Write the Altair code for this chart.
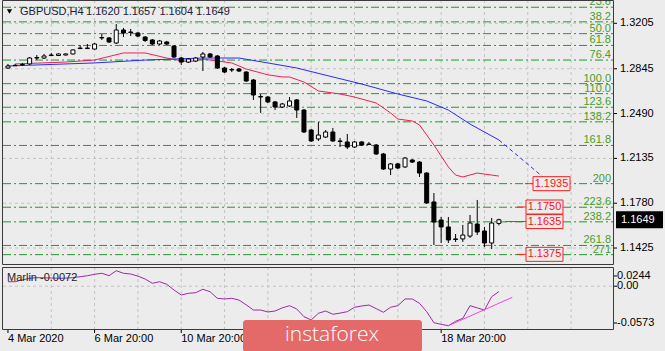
import altair as alt
import pandas as pd

# ---------------- chart values ----------------
bar_index = list(range(69))
opens = [1.2851, 1.2869, 1.2875, 1.2883, 1.2930, 1.2930, 1.2950, 1.2950, 1.2954, 1.2962,
         1.3005, 1.3005, 1.3001, 1.3089, 1.3089, 1.3049, 1.3152, 1.3136, 1.3128, 1.3096,
         1.3073, 1.3041, 1.3057, 1.3025, 1.2930, 1.2898, 1.2906, 1.2938, 1.2962, 1.2946,
         1.2851, 1.2835, 1.2843, 1.2819, 1.2756, 1.2621, 1.2621, 1.2582, 1.2542, 1.2550,
         1.2598, 1.2518, 1.2360, 1.2289, 1.2304, 1.2344, 1.2273, 1.2265, 1.2225, 1.2265,
         1.2249, 1.2241, 1.2170, 1.2051, 1.2091, 1.2067, 1.2122, 1.2106, 1.2019, 1.1790,
         1.1647, 1.1592, 1.1497, 1.1497, 1.1520, 1.1615, 1.1560, 1.1465, 1.1620]
closes = [1.2867, 1.2872, 1.2879, 1.2930, 1.2934, 1.2946, 1.2954, 1.2962, 1.2962, 1.2994,
          1.3009, 1.3009, 1.3041, 1.3092, 1.3057, 1.3152, 1.3128, 1.3132, 1.3104, 1.3069,
          1.3041, 1.3065, 1.3041, 1.2938, 1.2898, 1.2922, 1.2930, 1.2962, 1.2938, 1.2851,
          1.2819, 1.2839, 1.2827, 1.2748, 1.2637, 1.2625, 1.2582, 1.2542, 1.2566, 1.2590,
          1.2518, 1.2344, 1.2273, 1.2320, 1.2344, 1.2273, 1.2269, 1.2225, 1.2265, 1.2241,
          1.2245, 1.2170, 1.2051, 1.2091, 1.2059, 1.2138, 1.2106, 1.2019, 1.1782, 1.1631,
          1.1592, 1.1489, 1.1493, 1.1528, 1.1623, 1.1552, 1.1465, 1.1623, 1.1649]
highs = [1.2883, 1.2883, 1.2891, 1.2938, 1.2954, 1.2962, 1.2970, 1.2966, 1.2966, 1.2997,
         1.3033, 1.3041, 1.3049, 1.3120, 1.3096, 1.3199, 1.3168, 1.3160, 1.3136, 1.3104,
         1.3081, 1.3073, 1.3065, 1.3033, 1.2938, 1.2930, 1.2938, 1.2978, 1.2970, 1.2954,
         1.2859, 1.2851, 1.2851, 1.2827, 1.2764, 1.2645, 1.2629, 1.2590, 1.2574, 1.2621,
         1.2605, 1.2526, 1.2368, 1.2423, 1.2360, 1.2376, 1.2297, 1.2328, 1.2273, 1.2273,
         1.2265, 1.2249, 1.2178, 1.2099, 1.2099, 1.2146, 1.2130, 1.2114, 1.2027, 1.1861,
         1.1671, 1.1671, 1.1536, 1.1608, 1.1687, 1.1806, 1.1592, 1.1663, 1.1657]
lows = [1.2843, 1.2867, 1.2867, 1.2875, 1.2914, 1.2922, 1.2946, 1.2946, 1.2950, 1.2958,
        1.3001, 1.3001, 1.2997, 1.3073, 1.3049, 1.3041, 1.3096, 1.3104, 1.3096, 1.3057,
        1.3033, 1.3033, 1.3033, 1.2930, 1.2875, 1.2891, 1.2898, 1.2827, 1.2930, 1.2843,
        1.2811, 1.2819, 1.2819, 1.2740, 1.2598, 1.2495, 1.2574, 1.2518, 1.2534, 1.2542,
        1.2455, 1.2336, 1.2265, 1.2273, 1.2297, 1.2265, 1.2225, 1.2209, 1.2217, 1.2233,
        1.2241, 1.2162, 1.2043, 1.2003, 1.2051, 1.2059, 1.2099, 1.1988, 1.1774, 1.1449,
        1.1465, 1.1465, 1.1473, 1.1473, 1.1505, 1.1528, 1.1433, 1.1417, 1.1604]

ma_red_idx = [1, 8, 12, 16, 19, 22, 25, 27, 31, 33, 36, 38, 39, 41, 43, 46, 48, 51, 53,
              54, 56, 57, 59, 61, 62, 63, 65, 67, 68]
ma_red_val = [1.2883, 1.2898, 1.2914, 1.2970, 1.2970, 1.2930, 1.2898, 1.2922, 1.2891, 1.2843,
              1.2797, 1.2780, 1.2780, 1.2740, 1.2669, 1.2645, 1.2621, 1.2574, 1.2495,
              1.2447, 1.2431, 1.2400, 1.2241, 1.2067, 1.2003, 1.1988, 1.2019, 1.2003, 1.1995]
ma_blue_idx = [0, 12, 19, 27, 32, 36, 40, 45, 49, 54, 58, 61, 64, 68]
ma_blue_val = [1.2867, 1.2891, 1.2914, 1.2930, 1.2930, 1.2891, 1.2851, 1.2780, 1.2724,
               1.2645, 1.2590, 1.2518, 1.2407, 1.2281]
blue_proj_idx = [68, 74.6]
blue_proj_val = [1.2281, 1.1964]

fib_levels = [23.6, 38.2, 50.0, 61.8, 76.4, 100.0, 110.0, 123.6, 138.2, 161.8, 200.0,
              223.6, 238.2, 261.8, 271.0]
fib_labels = ["23.6", "38.2", "50.0", "61.8", "76.4", "100.0", "110.0", "123.6", "138.2",
              "161.8", "200", "223.6", "238.2", "261.8", "271"]
fib_price_0 = 1.3519
fib_price_100 = 1.2727

target_prices = [1.1935, 1.1750, 1.1635, 1.1375]
target_labels = ["1.1935", "1.1750", "1.1635", "1.1375"]

price_ticks = [1.3205, 1.2845, 1.2490, 1.2135, 1.1780, 1.1425]
price_tick_labels = ["1.3205", "1.2845", "1.2490", "1.2135", "1.1780", "1.1425"]
last_price = 1.1649

marlin = [0.0060, 0.0060, 0.0085, 0.0105, 0.0114, 0.0112, 0.0110, 0.0106, 0.0108, 0.0115,
          0.0127, 0.0140, 0.0159, 0.0173, 0.0141, 0.0207, 0.0173, 0.0163, 0.0135, 0.0096,
          0.0039, 0.0060, 0.0025, -0.0051, -0.0118, -0.0095, -0.0087, -0.0041, -0.0074, -0.0162,
          -0.0171, -0.0162, -0.0185, -0.0250, -0.0319, -0.0319, -0.0345, -0.0332, -0.0290, -0.0261,
          -0.0305, -0.0408, -0.0452, -0.0363, -0.0332, -0.0376, -0.0360, -0.0341, -0.0282, -0.0265,
          -0.0252, -0.0300, -0.0349, -0.0282, -0.0261, -0.0171, -0.0171, -0.0229, -0.0341, -0.0489,
          -0.0510, -0.0529, -0.0470, -0.0430, -0.0261, -0.0290, -0.0319, -0.0141, -0.0072]
marlin_trend_idx = [61, 69.85]
marlin_trend_val = [-0.0529, -0.0149]
ind_ticks = [0.0244, 0.0, -0.0573]
ind_tick_labels = ["0.0244", "0.00", "-0.0573"]

# x labels visible in the reference (the others sit under the watermark)
x_label_idx = [0, 12, 24, 60]
x_labels = ["4 Mar 2020", "6 Mar 20:00", "10 Mar 20:00", "18 Mar 20:00"]
grid_idx = [6, 12, 18, 24, 30, 36, 42, 48, 54, 60, 66, 72, 78]

title_symbol = "GBPUSD,H4"
title_ohlc = "1.1620 1.1657 1.1604 1.1649"
ind_title = "Marlin -0.0072"
logo_text = "instaforex"

# ---------------- layout (pixels) ----------------
W, H = 665, 351
LEFT, RIGHT = 3, 613
MAIN_T, MAIN_B = 0, 264
IND_T, IND_B = 267, 329
BAR_PX = 7.33
PRICE_AT_TOP = 1.33895
PRICE_PER_PX = 0.000792
IND_ZERO_PX = 286.2
IND_PX_PER_UNIT = 747.0

BG = "#ececec"
FONT = "Liberation Sans"

xs = alt.Scale(domain=[(0 - LEFT) / BAR_PX, (W - LEFT) / BAR_PX], nice=False, zero=False)
ps = alt.Scale(domain=[PRICE_AT_TOP - H * PRICE_PER_PX, PRICE_AT_TOP], nice=False, zero=False)
iscale = alt.Scale(domain=[(IND_ZERO_PX - H) / IND_PX_PER_UNIT, IND_ZERO_PX / IND_PX_PER_UNIT],
                   nice=False, zero=False)

# ---------------- tables ----------------
candles = pd.DataFrame({"idx": bar_index, "open": opens, "high": highs, "low": lows, "close": closes})
red_df = pd.DataFrame({"idx": ma_red_idx, "v": ma_red_val})
blue_df = pd.DataFrame({"idx": ma_blue_idx, "v": ma_blue_val})
proj_df = pd.DataFrame({"idx": blue_proj_idx, "v": blue_proj_val})
fib_df = pd.DataFrame({"level": fib_levels, "label": fib_labels})
fib_df["price"] = fib_price_0 + (fib_price_100 - fib_price_0) * fib_df["level"] / 100.0
tick_df = pd.DataFrame({"price": price_ticks, "label": price_tick_labels})
marlin_df = pd.DataFrame({"idx": bar_index, "v": marlin})
trend_df = pd.DataFrame({"idx": marlin_trend_idx, "v": marlin_trend_val})
xlab_df = pd.DataFrame({"idx": x_label_idx, "label": x_labels})
grid_df = pd.DataFrame({"idx": grid_idx})
one = pd.DataFrame({"k": [0]})

X = lambda f="idx": alt.X(f + ":Q", scale=xs, axis=None)
PY = lambda f: alt.Y(f + ":Q", scale=ps, axis=None)
IY = lambda f: alt.Y(f + ":Q", scale=iscale, axis=None)

# ---------------- background grid ----------------
grid_v_main = alt.Chart(grid_df).mark_rule(color="#c3c3c3", strokeDash=[3, 3], strokeWidth=1).encode(
    x=X(), y=alt.value(MAIN_T), y2=alt.value(MAIN_B))
grid_v_ind = alt.Chart(grid_df).mark_rule(color="#c3c3c3", strokeDash=[3, 3], strokeWidth=1).encode(
    x=X(), y=alt.value(IND_T), y2=alt.value(IND_B))
x_ticks = alt.Chart(xlab_df).mark_rule(color="#000000").encode(
    x=X(), y=alt.value(IND_B), y2=alt.value(IND_B + 4))
x_text = alt.Chart(xlab_df).mark_text(align="left", baseline="middle", fontSize=11, font=FONT,
                                      color="#000000").encode(x=X(), y=alt.value(339), text="label:N")
deco_back = alt.layer(grid_v_main, grid_v_ind, x_ticks, x_text)

# ---------------- price panel ----------------
grid_h = alt.Chart(tick_df).mark_rule(color="#c3c3c3", strokeDash=[3, 3]).encode(
    y=PY("price"), x=alt.value(LEFT), x2=alt.value(RIGHT))
fib_rules = alt.Chart(fib_df).mark_rule(color="#22992a", strokeDash=[8, 3, 2, 3], strokeWidth=1).encode(
    y=PY("price"), x=alt.value(LEFT), x2=alt.value(RIGHT))
fib_text = alt.Chart(fib_df).mark_text(align="right", baseline="alphabetic", dy=-2, fontSize=11,
                                       font=FONT, color="#4a9e26").encode(
    y=PY("price"), x=alt.value(RIGHT - 2), text="label:N")
red_line = alt.Chart(red_df).mark_line(color="#ee2050", strokeWidth=1).encode(x=X(), y=PY("v"))
blue_line = alt.Chart(blue_df).mark_line(color="#2a2aff", strokeWidth=1).encode(x=X(), y=PY("v"))
blue_proj = alt.Chart(proj_df).mark_line(color="#2a2aff", strokeWidth=1, strokeDash=[4, 3]).encode(
    x=X(), y=PY("v"))
wicks = alt.Chart(candles).mark_rule(color="#000000", strokeWidth=1).encode(
    x=X(), y=PY("low"), y2="high:Q")
bull = alt.Chart(candles).transform_filter("datum.close >= datum.open").mark_bar(
    size=4, fill="#ffffff", stroke="#000000", strokeWidth=1).encode(x=X(), y=PY("open"), y2="close:Q")
bear = alt.Chart(candles).transform_filter("datum.close < datum.open").mark_bar(
    size=4, fill="#000000", stroke="#000000", strokeWidth=1).encode(x=X(), y=PY("open"), y2="close:Q")

box_path = "M-1,-0.378L1,-0.378L1,0.378L-1,0.378Z"
box_centers = [551.5, 544.5, 544.5, 544.5]
line_starts = [525, 517, 505, 517]
target_layers = []
for p, lab, cx, ls in zip(target_prices, target_labels, box_centers, line_starts):
    d = pd.DataFrame({"price": [p], "label": [lab]})
    target_layers.append(alt.Chart(d).mark_rule(color="#ff2020", strokeWidth=1).encode(
        y=PY("price"), x=alt.value(ls), x2=alt.value(cx - 18.5)))
    target_layers.append(alt.Chart(d).mark_point(shape=box_path, size=37 * 37, filled=True, fill=BG,
                                                 stroke="#ff2020", strokeWidth=1, opacity=1).encode(
        y=PY("price"), x=alt.value(cx)))
    target_layers.append(alt.Chart(d).mark_text(align="center", baseline="middle", fontSize=11,
                                                font=FONT, color="#ff1010").encode(
        y=PY("price"), x=alt.value(cx), text="label:N"))

p_ticks = alt.Chart(tick_df).mark_rule(color="#000000").encode(
    y=PY("price"), x=alt.value(RIGHT), x2=alt.value(RIGHT + 4))
p_text = alt.Chart(tick_df).mark_text(align="left", baseline="middle", fontSize=11, font=FONT,
                                      color="#000000").encode(y=PY("price"), x=alt.value(620), text="label:N")
cur_df = pd.DataFrame({"price": [last_price], "label": ["%.4f" % last_price]})
cur_box = alt.Chart(cur_df).mark_point(shape="M-1,-0.333L1,-0.333L1,0.333L-1,0.333Z", size=45 * 45,
                                       filled=True, fill="#000000", stroke="#000000", opacity=1).encode(
    y=PY("price"), x=alt.value(639.5))
cur_text = alt.Chart(cur_df).mark_text(align="left", baseline="middle", fontSize=11, font=FONT,
                                       color="#ffffff").encode(y=PY("price"), x=alt.value(621), text="label:N")

price_layer = alt.layer(grid_h, fib_rules, fib_text, red_line, blue_line, blue_proj, wicks, bull, bear,
                        *target_layers, p_ticks, p_text, cur_box, cur_text)

# ---------------- indicator panel ----------------
zero_grid = alt.Chart(pd.DataFrame({"v": [0.0]})).mark_rule(color="#c3c3c3", strokeDash=[3, 3]).encode(
    y=IY("v"), x=alt.value(LEFT), x2=alt.value(RIGHT))
marlin_line = alt.Chart(marlin_df).mark_line(color="#9c2aa4", strokeWidth=1).encode(x=X(), y=IY("v"))
trend_line = alt.Chart(trend_df).mark_line(color="#f040f0", strokeWidth=1).encode(x=X(), y=IY("v"))
ind_layers = []
for v, lab, dy in zip(ind_ticks, ind_tick_labels, [8, 0, -6]):
    d = pd.DataFrame({"v": [v], "label": [lab]})
    ind_layers.append(alt.Chart(d).mark_rule(color="#000000", yOffset=dy).encode(
        y=IY("v"), x=alt.value(RIGHT), x2=alt.value(RIGHT + 4)))
    ind_layers.append(alt.Chart(d).mark_text(align="left", baseline="middle", dy=dy, fontSize=11,
                                             font=FONT, color="#000000").encode(
        y=IY("v"), x=alt.value(617), text="label:N"))
ind_layer = alt.layer(zero_grid, marlin_line, trend_line, *ind_layers)

# ---------------- frame, titles, watermark ----------------
frame_main = alt.Chart(one).mark_rect(fillOpacity=0, stroke="#3a3a3a", strokeWidth=1).encode(
    x=alt.value(LEFT - 0.5), x2=alt.value(RIGHT + 0.5), y=alt.value(MAIN_T + 0.5), y2=alt.value(MAIN_B + 0.5))
frame_ind = alt.Chart(one).mark_rect(fillOpacity=0, stroke="#3a3a3a", strokeWidth=1).encode(
    x=alt.value(LEFT - 0.5), x2=alt.value(RIGHT + 0.5), y=alt.value(IND_T + 0.5), y2=alt.value(IND_B + 0.5))
tri = alt.Chart(one).mark_point(shape="triangle-down", size=28, filled=True, color="#000000", opacity=1).encode(
    x=alt.value(9.5), y=alt.value(11.5))
t1 = alt.Chart(pd.DataFrame({"t": [title_symbol]})).mark_text(
    align="left", baseline="middle", fontSize=11, font=FONT, color="#22223a").encode(
    x=alt.value(20), y=alt.value(12), text="t:N")
t2 = alt.Chart(pd.DataFrame({"t": [title_ohlc]})).mark_text(
    align="left", baseline="middle", fontSize=11, font=FONT, color="#22223a").encode(
    x=alt.value(86), y=alt.value(12), text="t:N")
t3 = alt.Chart(pd.DataFrame({"t": [ind_title]})).mark_text(
    align="left", baseline="middle", fontSize=11, font=FONT, color="#222222").encode(
    x=alt.value(7), y=alt.value(278), text="t:N")
logo_box = alt.Chart(one).mark_rect(fill="#e46a6a", cornerRadius=3).encode(
    x=alt.value(243), x2=alt.value(422), y=alt.value(320), y2=alt.value(352))
logo_txt = alt.Chart(pd.DataFrame({"t": [logo_text]})).mark_text(
    align="center", baseline="middle", fontSize=21, font="Open Sans", fontWeight=300, color="#ffffff").encode(
    x=alt.value(332), y=alt.value(335), text="t:N")
deco_front = alt.layer(frame_main, frame_ind, tri, t1, t2, t3, logo_box, logo_txt)

chart = alt.layer(deco_back, price_layer, ind_layer, deco_front).resolve_scale(
    y="independent"
).properties(
    width=W, height=H, autosize=alt.AutoSizeParams(type="none"), padding=0, background=BG
).configure_view(stroke=None)

chart.save("out.html", embed_options={"renderer": "svg", "actions": False})
